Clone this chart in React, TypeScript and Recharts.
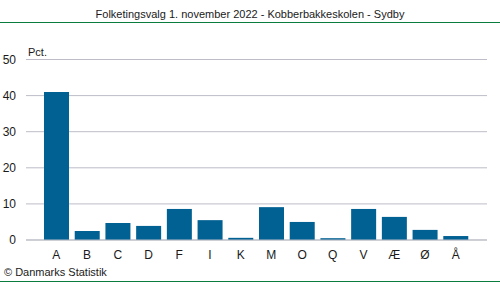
import React from "react";
import { BarChart, Bar, XAxis, YAxis, CartesianGrid } from "recharts";

// Party letters and vote shares (pct.)
const parties = ["A", "B", "C", "D", "F", "I", "K", "M", "O", "Q", "V", "Æ", "Ø", "Å"];
const shares = [41.0, 2.5, 4.7, 3.9, 8.6, 5.5, 0.6, 9.1, 5.0, 0.5, 8.6, 6.4, 2.8, 1.1];
const yTicks = [0, 10, 20, 30, 40, 50];

const data = parties.map((p, i) => ({ party: p, pct: shares[i] }));

const FONT = "'Liberation Sans', Arial, sans-serif";
const TEXT = "#1a1a1a";

export default function App() {
  return (
    <div style={{ position: "absolute", left: 0, top: 0, width: 500, height: 282, background: "#fff", fontFamily: FONT }}>
      <div style={{ position: "absolute", left: 0, top: 8, width: 500, textAlign: "center", fontSize: 11, color: TEXT }}>
        Folketingsvalg 1. november 2022 - Kobberbakkeskolen - Sydby
      </div>
      <div style={{ position: "absolute", left: 0, top: 22, width: 500, height: 1, background: "#0a7d3e" }} />
      <div style={{ position: "absolute", left: 28, top: 46, fontSize: 11, color: TEXT }}>Pct.</div>
      <div style={{ position: "absolute", left: 0, top: 0 }}>
        <BarChart
          width={500}
          height={282}
          data={data}
          margin={{ top: 59.5, right: 13, bottom: 12, left: 0 }}
          barSize={25}
        >
          <CartesianGrid horizontal vertical={false} stroke="#bdbdc8" />
          <XAxis
            dataKey="party"
            height={30}
            padding={{ left: 15, right: 16 }}
            axisLine={{ stroke: "#bdbdc8" }}
            tickLine={false}
            tick={{ fontSize: 12, fill: TEXT, fontFamily: FONT }}
            tickMargin={4}
            interval={0}
          />
          <YAxis
            width={26}
            domain={[0, 50]}
            ticks={yTicks}
            axisLine={false}
            tickLine={false}
            tick={{ fontSize: 12, fill: TEXT, fontFamily: FONT }}
            tickMargin={4}
          />
          <Bar dataKey="pct" fill="#006192" isAnimationActive={false} />
        </BarChart>
      </div>
      <div style={{ position: "absolute", left: 4, top: 266, fontSize: 11, color: TEXT }}>© Danmarks Statistik</div>
      <div style={{ position: "absolute", left: 0, top: 281, width: 500, height: 1, background: "#0a7d3e" }} />
    </div>
  );
}
